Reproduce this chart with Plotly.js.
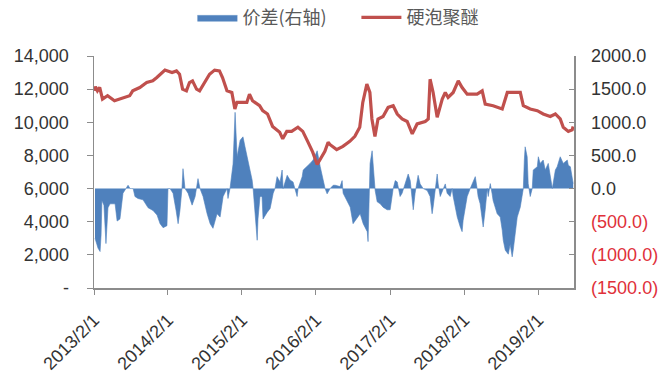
<!DOCTYPE html>
<html><head><meta charset="utf-8">
<script src="https://cdn.plot.ly/plotly-3.0.1.min.js"></script>
<style>html,body{margin:0;padding:0;background:#fff}#c{width:659px;height:392px}</style>
</head><body><div id="c"></div>
<script>
// 硬泡聚醚 (left axis)
const polyDates = ["2013-02-01","2013-02-08","2013-02-18","2013-03-01","2013-03-15","2013-04-09","2013-05-13","2013-06-22","2013-07-27","2013-08-11","2013-09-15","2013-10-19","2013-11-18","2013-12-08","2014-01-02","2014-01-17","2014-02-21","2014-03-15","2014-03-30","2014-04-14","2014-05-03","2014-05-18","2014-06-02","2014-06-22","2014-07-07","2014-08-01","2014-08-25","2014-09-19","2014-10-13","2014-10-28","2014-11-19","2014-12-13","2014-12-28","2015-01-07","2015-02-25","2015-03-10","2015-03-25","2015-04-29","2015-05-14","2015-06-07","2015-07-02","2015-08-06","2015-08-21","2015-09-10","2015-10-04","2015-11-04","2015-11-28","2015-12-22","2016-01-16","2016-02-07","2016-02-22","2016-03-16","2016-04-01","2016-04-11","2016-05-13","2016-06-13","2016-07-17","2016-08-11","2016-09-04","2016-09-19","2016-10-09","2016-10-24","2016-11-03","2016-11-18","2016-12-03","2016-12-28","2017-01-22","2017-02-16","2017-03-08","2017-04-01","2017-04-26","2017-05-21","2017-06-14","2017-07-24","2017-08-08","2017-08-17","2017-09-01","2017-09-21","2017-10-16","2017-10-31","2017-11-14","2017-12-09","2018-01-03","2018-01-22","2018-02-16","2018-04-06","2018-05-01","2018-05-16","2018-06-24","2018-08-08","2018-09-02","2018-09-26","2018-11-05","2018-11-20","2018-12-24","2019-01-28","2019-02-26","2019-04-02","2019-04-27","2019-05-21","2019-06-05","2019-06-30","2019-07-19","2019-07-24"];
const polyValues = [11900,12150,11900,12100,11400,11600,11300,11450,11600,11900,12100,12400,12500,12700,13000,13150,13000,13100,12900,12000,11900,12400,12500,12000,11900,12400,12900,13150,13100,12700,11900,11800,10800,11200,11200,11700,11300,11000,10700,10500,9750,9400,9000,9450,9450,9700,9450,8850,8200,7450,7750,8250,8800,8650,8350,8550,8850,9150,9700,11200,12300,11800,10200,9150,10200,10350,10900,11000,10500,10200,10050,9300,9900,10050,10200,12600,11800,10300,11400,11800,11500,11800,12500,12100,11700,11700,11900,11100,11000,10800,11800,11800,11800,11000,10800,10700,10500,10350,10500,10200,9700,9450,9550,9750];

// 价差 (right axis)
const spreadDates = ["2013-02-06","2013-02-21","2013-03-03","2013-03-08","2013-03-12","2013-03-22","2013-04-01","2013-04-11","2013-04-21","2013-05-16","2013-05-26","2013-06-09","2013-06-24","2013-07-09","2013-07-19","2013-07-29","2013-08-13","2013-08-22","2013-09-06","2013-10-01","2013-10-26","2013-11-19","2013-12-09","2013-12-24","2014-01-08","2014-01-27","2014-02-01","2014-02-11","2014-02-26","2014-03-13","2014-03-23","2014-04-01","2014-04-11","2014-04-16","2014-04-26","2014-05-11","2014-05-31","2014-06-15","2014-06-29","2014-07-09","2014-07-24","2014-08-13","2014-08-28","2014-09-11","2014-10-01","2014-10-16","2014-10-31","2014-11-19","2014-11-24","2014-12-04","2014-12-19","2014-12-29","2015-01-08","2015-01-23","2015-02-06","2015-02-16","2015-03-03","2015-03-23","2015-03-28","2015-04-07","2015-04-17","2015-04-21","2015-05-01","2015-05-11","2015-05-16","2015-06-05","2015-06-20","2015-07-05","2015-07-14","2015-07-24","2015-08-08","2015-08-18","2015-08-23","2015-09-12","2015-09-26","2015-10-11","2015-10-31","2015-11-05","2015-11-25","2015-11-30","2015-12-19","2016-01-03","2016-01-18","2016-02-07","2016-02-22","2016-03-07","2016-03-17","2016-03-27","2016-04-11","2016-04-26","2016-05-06","2016-05-30","2016-06-09","2016-06-14","2016-07-04","2016-07-19","2016-08-02","2016-08-22","2016-09-06","2016-09-21","2016-10-11","2016-10-15","2016-10-20","2016-10-25","2016-11-04","2016-11-09","2016-11-19","2016-11-29","2016-12-14","2016-12-28","2017-01-17","2017-02-01","2017-02-16","2017-02-26","2017-03-08","2017-03-22","2017-04-01","2017-05-01","2017-05-11","2017-05-26","2017-06-04","2017-06-19","2017-06-29","2017-07-14","2017-08-03","2017-08-17","2017-08-27","2017-09-01","2017-09-21","2017-09-26","2017-10-06","2017-10-31","2017-11-09","2017-11-24","2017-12-04","2017-12-09","2017-12-29","2018-01-13","2018-01-22","2018-01-27","2018-02-06","2018-02-16","2018-03-03","2018-03-28","2018-04-06","2018-04-11","2018-04-21","2018-05-01","2018-05-06","2018-05-16","2018-05-26","2018-05-31","2018-06-10","2018-06-19","2018-06-24","2018-07-14","2018-07-29","2018-08-08","2018-08-13","2018-08-23","2018-09-07","2018-09-16","2018-09-26","2018-10-01","2018-10-11","2018-10-21","2018-11-05","2018-11-15","2018-11-20","2018-11-25","2018-11-29","2018-12-09","2018-12-14","2018-12-24","2019-01-03","2019-01-08","2019-01-28","2019-02-02","2019-02-11","2019-02-26","2019-03-08","2019-03-23","2019-04-02","2019-04-12","2019-04-27","2019-05-06","2019-05-21","2019-06-05","2019-06-25","2019-06-30","2019-07-10","2019-07-19","2019-07-24"];
const spreadValues = [-750,-900,-950,-700,-180,-250,-830,-290,-230,-230,-490,-460,-70,0,50,0,0,-120,-150,-170,-290,-330,-400,-530,-590,-560,0,0,-70,-330,-530,-330,0,300,0,-70,-250,-120,150,0,-120,-380,-530,-600,-380,-430,-120,0,-150,0,370,1150,480,730,780,630,410,130,0,-460,-780,-460,-120,-120,-460,-360,-300,-70,0,180,100,280,0,200,130,100,-120,0,180,280,330,380,430,570,330,130,0,-80,0,50,50,30,120,-70,-180,-280,-530,-450,-380,-530,-650,-800,0,380,570,330,-30,-200,-230,-280,-320,-320,0,120,100,-120,-70,220,120,-320,-70,200,70,0,-30,-120,-380,-280,220,70,-120,70,-70,-120,0,-120,-430,-580,-650,-480,-320,-120,0,180,0,-120,-230,-430,-580,-320,0,-120,75,-80,-180,-380,-430,-630,-780,-930,-990,-840,-1030,-930,-630,-430,-280,-120,0,430,630,480,75,-120,0,280,330,480,380,430,280,380,180,0,280,330,480,380,430,350,330,180,75];

const leftTickVals = [0,2000,4000,6000,8000,10000,12000,14000];
const leftTickText = ["-","2,000","4,000","6,000","8,000","10,000","12,000","14,000"];
const rightTickVals = [-1500,-1000,-500,0,500,1000,1500,2000];
const rightTickText = ["(1500.0)","(1000.0)","(500.0)","0.0","500.0","1000.0","1500.0","2000.0"];
const xTick0 = "2013-02-01";
const xRange = ["2013-02-01","2019-07-28"];

const RED = "#C0504D", BLUE = "#4F81BD", AX = "#8c8c8c";
const rightText = rightTickText.map((t,i)=> rightTickVals[i] < 0 ? '<span style="color:#E0303A">'+t+'</span>' : t);

const data = [
  {x: spreadDates, y: spreadValues, type:"scatter", mode:"lines", name:"价差(右轴)",
   fill:"tozeroy", fillcolor:BLUE, line:{color:BLUE, width:0.6}, yaxis:"y"},
  {x: polyDates, y: polyValues, type:"scatter", mode:"lines", name:"硬泡聚醚",
   line:{color:RED, width:3.2}, yaxis:"y2"}
];
const tickFont = {family:"Liberation Sans, Arial, sans-serif", size:18, color:"#333"};
const layout = {
  width:659, height:392, paper_bgcolor:"#fff", plot_bgcolor:"#fff",
  margin:{l:94, r:85, t:56, b:104, autoexpand:false},
  showlegend:true,
  legend:{orientation:"h", x:0.205, xanchor:"left", y:1.165, yanchor:"middle",
    font:{family:"Noto Sans CJK SC, sans-serif", size:18, color:"#595959"},
    itemwidth:40, entrywidth:109, entrywidthmode:"pixels", tracegroupgap:0},
  xaxis:{type:"date", range:xRange, tick0:xTick0, dtick:"M12", tickformat:"%Y/%-m/%-d",
    tickangle:-45, ticks:"outside", ticklen:5, tickcolor:AX, showline:true, linecolor:AX, linewidth:1.5,
    showgrid:false, zeroline:false, ticklabelstandoff:8,
    tickfont:{family:"Liberation Sans, Arial, sans-serif", size:18, color:"#333"}},
  yaxis:{range:[-1500,2000], side:"right", tickvals:rightTickVals, ticktext:rightText,
    ticks:"inside", ticklen:5, tickcolor:AX, showline:true, linecolor:AX, linewidth:1.5,
    showgrid:false, zeroline:false, tickfont:tickFont, ticklabelstandoff:12},
  yaxis2:{range:[0,14000], side:"left", overlaying:"y", tickvals:leftTickVals, ticktext:leftTickText,
    ticks:"outside", ticklen:6, tickcolor:AX, showline:true, linecolor:AX, linewidth:1.5,
    showgrid:false, zeroline:false, tickfont:tickFont, ticklabelstandoff:14}
};
Plotly.newPlot("c", data, layout, {displayModeBar:false, staticPlot:true});
</script></body></html>
